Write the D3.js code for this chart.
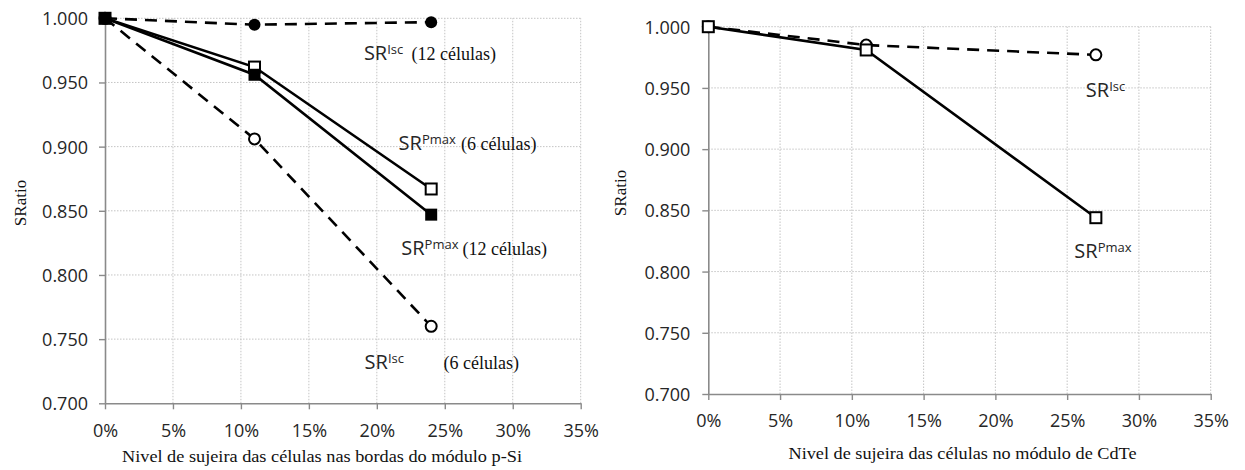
<!DOCTYPE html>
<html>
<head>
<meta charset="utf-8">
<script src="https://cdn.jsdelivr.net/npm/d3@7"></script>
<style>
body{margin:0;background:#fff}
svg{display:block}
</style>
</head>
<body>
<div class="canva"></div>
<script>
// tick values shared by both panels
const xTicks = [0, 5, 10, 15, 20, 25, 30, 35];
const yTicks = [0.70, 0.75, 0.80, 0.85, 0.90, 0.95, 1.00];

// p-Si module (left)
const pSiLevel = [0, 11, 24];
const pSiIsc12 = [1.000, 0.995, 0.997];
const pSiIsc6 = [1.000, 0.906, 0.760];
const pSiPmax6 = [1.000, 0.962, 0.867];
const pSiPmax12 = [1.000, 0.956, 0.847];

// CdTe module (right)
const cdteLevel = [0, 11, 27];
const cdteIsc = [1.000, 0.985, 0.977];
const cdtePmax = [1.000, 0.981, 0.844];

const svg = d3.select(".canva").append("svg")
  .attr("width", 1245)
  .attr("height", 470);

const sans = "'Open Sans', sans-serif";
const serif = "'Liberation Serif', 'Times New Roman', serif";

function panel(o) {
  const x = d3.scaleLinear().domain([0, 35]).range([o.left, o.right]);
  const y = d3.scaleLinear().domain([0.70, 1.00]).range([o.bottom, o.top]);
  const g = svg.append("g");

  // dotted grid
  g.append("g").selectAll("line").data(xTicks.slice(1)).join("line")
    .attr("x1", d => x(d)).attr("x2", d => x(d))
    .attr("y1", y(0.70)).attr("y2", y(1.00))
    .attr("stroke", "#c4c4c4").attr("stroke-dasharray", "1.5,1.5");
  g.append("g").selectAll("line").data(yTicks.slice(1)).join("line")
    .attr("x1", x(0)).attr("x2", x(35))
    .attr("y1", d => y(d)).attr("y2", d => y(d))
    .attr("stroke", "#c4c4c4").attr("stroke-dasharray", "1.5,1.5");

  // axes
  const xa = g.append("g").attr("transform", `translate(0,${o.bottom})`)
    .call(d3.axisBottom(x).tickValues(xTicks).tickSize(6).tickSizeOuter(0)
      .tickFormat(d => d + "%"));
  const ya = g.append("g").attr("transform", `translate(${o.left},0)`)
    .call(d3.axisLeft(y).tickValues(yTicks).tickSize(6).tickSizeOuter(0)
      .tickFormat(d3.format(".3f")));
  [xa, ya].forEach(a => {
    a.select(".domain").attr("stroke", "#8a8a8a").attr("stroke-width", 1.6);
    a.selectAll(".tick line").attr("stroke", "#8a8a8a").attr("stroke-width", 1.4);
    a.selectAll(".tick text").attr("fill", "#262626")
      .style("font-family", sans).style("font-size", "18px");
  });
  xa.selectAll(".tick text").attr("dy", null).attr("y", o.xLabelDy);
  ya.selectAll(".tick text").attr("x", -o.yLabelDx).attr("dy", "0.36em");

  // series
  const line = d3.line().x(d => x(d[0])).y(d => y(d[1]));
  o.series.forEach(s => {
    const pts = s.level.map((v, i) => [v, s.vals[i]]);
    g.append("path").datum(pts).attr("d", line)
      .attr("fill", "none").attr("stroke", "#000").attr("stroke-width", 2.6)
      .attr("stroke-dasharray", s.dashed ? "12,8" : null);
    const m = g.append("g").selectAll("g").data(pts).join("g");
    if (s.shape === "circle") {
      m.append("circle").attr("cx", d => x(d[0])).attr("cy", d => y(d[1]))
        .attr("r", s.filled ? 6 : 5.5)
        .attr("fill", s.filled ? "#000" : "#fff")
        .attr("stroke", "#000").attr("stroke-width", s.filled ? 0 : 2);
    } else {
      const sz = s.filled ? 12 : 11;
      m.append("rect").attr("x", d => x(d[0]) - sz / 2).attr("y", d => y(d[1]) - sz / 2)
        .attr("width", sz).attr("height", sz)
        .attr("fill", s.filled ? "#000" : "#fff")
        .attr("stroke", "#000").attr("stroke-width", s.filled ? 0 : 2);
    }
  });

  // annotations
  o.notes.forEach(n => {
    const t = g.append("text").attr("x", x(n.x)).attr("y", y(n.y))
      .attr("fill", "#262626").style("font-family", sans);
    t.append("tspan").text("SR").style("font-size", "20px");
    t.append("tspan").text(n.sup).attr("dy", -6).style("font-size", "13px");
    if (n.tail) {
      g.append("text").attr("x", x(n.tailX)).attr("y", y(n.y))
        .attr("fill", "#111").style("font-family", serif).style("font-size", "18px")
        .text(n.tail);
    }
  });

  // axis titles
  g.append("text").attr("x", o.xTitleX).attr("y", o.xTitleY)
    .attr("text-anchor", "middle").attr("fill", "#111")
    .style("font-family", serif).style("font-size", "17px")
    .attr("textLength", o.xTitleLen).attr("lengthAdjust", "spacingAndGlyphs")
    .text(o.xTitle);
  g.append("text")
    .attr("transform", `translate(${o.yTitleX},${o.yTitleY}) rotate(-90)`)
    .attr("text-anchor", "middle").attr("fill", "#111")
    .style("font-family", serif).style("font-size", "17px")
    .text("SRatio");
}

panel({
  left: 105, right: 580.7, top: 18.3, bottom: 403.3,
  xLabelDy: 34, yLabelDx: 17,
  xTitle: "Nivel de sujeira das células nas bordas do módulo p-Si",
  xTitleX: 322, xTitleY: 462, xTitleLen: 400,
  yTitleX: 26, yTitleY: 203,
  series: [
    {level: pSiLevel, vals: pSiIsc12, dashed: true, shape: "circle", filled: true},
    {level: pSiLevel, vals: pSiIsc6, dashed: true, shape: "circle", filled: false},
    {level: pSiLevel, vals: pSiPmax6, dashed: false, shape: "square", filled: false},
    {level: pSiLevel, vals: pSiPmax12, dashed: false, shape: "square", filled: true}
  ],
  notes: [
    {x: 19.05, y: 0.9675, sup: "Isc", tail: "(12 células)", tailX: 22.55},
    {x: 21.6, y: 0.8974, sup: "Pmax", tail: "(6 células)", tailX: 26.2},
    {x: 21.8, y: 0.8156, sup: "Pmax", tail: "(12 células)", tailX: 26.3},
    {x: 19.1, y: 0.7264, sup: "Isc", tail: "(6 células)", tailX: 24.9}
  ]
});

panel({
  left: 708.3, right: 1210.7, top: 26.7, bottom: 394,
  xLabelDy: 33, yLabelDx: 18,
  xTitle: "Nivel de sujeira das células no módulo de CdTe",
  xTitleX: 962.5, xTitleY: 459, xTitleLen: 348,
  yTitleX: 626, yTitleY: 193,
  series: [
    {level: cdteLevel, vals: cdteIsc, dashed: true, shape: "circle", filled: false},
    {level: cdteLevel, vals: cdtePmax, dashed: false, shape: "square", filled: false}
  ],
  notes: [
    {x: 26.3, y: 0.9428, sup: "Isc"},
    {x: 25.5, y: 0.8108, sup: "Pmax"}
  ]
});
</script>
</body>
</html>
